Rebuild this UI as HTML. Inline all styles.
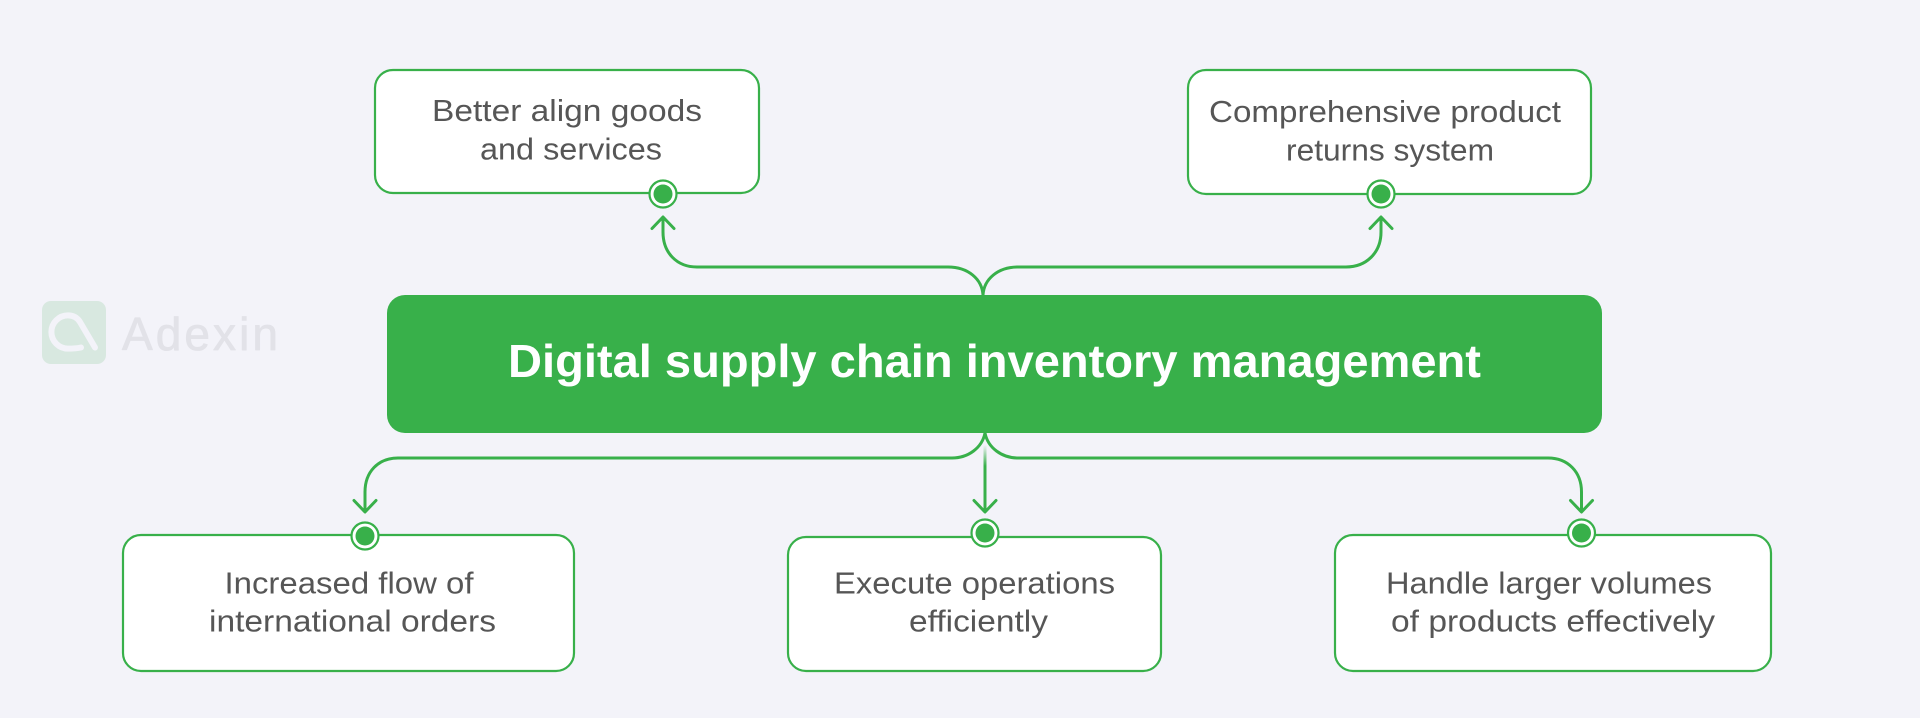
<!DOCTYPE html>
<html lang="en">
<head>
<meta charset="utf-8">
<title>Digital supply chain inventory management</title>
<style>
html,body{margin:0;padding:0;background:#f3f3f9;}
svg{display:block;}
text{font-family:"Liberation Sans",sans-serif;}
.n{font-size:31px;fill:#565656;}
</style>
</head>
<body>
<svg width="1920" height="718" viewBox="0 0 1920 718" xmlns="http://www.w3.org/2000/svg">
<defs>
<linearGradient id="fade" gradientUnits="userSpaceOnUse" x1="0" y1="445" x2="0" y2="466">
<stop offset="0" stop-color="#38b04a" stop-opacity="0"/>
<stop offset="1" stop-color="#38b04a"/>
</linearGradient>
</defs>
<rect width="1920" height="718" fill="#f3f3f9"/>

<!-- logo -->
<rect x="42" y="301" width="64" height="63" rx="9" fill="#d8e8e0"/>
<g fill="none" stroke="#f3f3f9" stroke-width="6" stroke-linecap="round" stroke-linejoin="round">
<path d="M81 347.500C77.500 348.300 73 348.600 68 348.600A16.600 16.600 0 1 1 68 315.400C73.500 315.400 77.500 318 80 322L95 347.500"/>
</g>
<text x="122" y="350" font-size="46" fill="#e2e2e8" stroke="#e2e2e8" stroke-width="0.8" stroke-linejoin="round" textLength="156" lengthAdjust="spacing">Adexin</text>

<!-- connectors -->
<g fill="none" stroke="#38b04a" stroke-width="3" stroke-linecap="round" stroke-linejoin="round">
<path d="M983 295C982 279 968 267 948 267L697 267C677 267 663 253 663 232L663 218"/>
<path d="M652 228.500L663 217L674 228.500"/>
<path d="M983 295C984 279 998 267 1018 267L1346 267C1366 267 1381 253 1381 232L1381 218"/>
<path d="M1370 228.500L1381 217L1392 228.500"/>
<path d="M985 433C982 448 968 458 952 458L398 458C378 458 365 472 365 492L365 511"/>
<path d="M354 500.500L365 512L376 500.500"/>
<path d="M985 433C988 448 1002 458 1018 458L1548 458C1568 458 1581.500 472 1581.500 492L1581.500 511"/>
<path d="M1570.500 500.500L1581.500 512L1592.500 500.500"/>
<path d="M985 445L985 511" stroke="url(#fade)"/>
<path d="M974 500.500L985 512L996 500.500"/>
</g>

<!-- central node -->
<rect x="387" y="295" width="1215" height="138" rx="18" fill="#38b04a"/>
<text x="508" y="377" font-size="46" font-weight="700" fill="#ffffff" textLength="973" lengthAdjust="spacingAndGlyphs">Digital supply chain inventory management</text>

<!-- nodes -->
<g fill="#ffffff" stroke="#38b04a" stroke-width="2.2">
<rect x="375" y="70" width="384" height="123" rx="18"/>
<rect x="1188" y="70" width="403" height="124" rx="18"/>
<rect x="123" y="535" width="451" height="136" rx="18"/>
<rect x="788" y="537" width="373" height="134" rx="18"/>
<rect x="1335" y="535" width="436" height="136" rx="18"/>
</g>

<!-- ports -->
<g fill="#ffffff" stroke="#38b04a" stroke-width="2.2">
<circle cx="663" cy="194" r="13.5"/>
<circle cx="1381" cy="194" r="13.5"/>
<circle cx="365" cy="536" r="13.5"/>
<circle cx="985" cy="533" r="13.5"/>
<circle cx="1581.5" cy="533" r="13.5"/>
</g>
<g fill="#38b04a">
<circle cx="663" cy="194" r="9.5"/>
<circle cx="1381" cy="194" r="9.5"/>
<circle cx="365" cy="536" r="9.5"/>
<circle cx="985" cy="533" r="9.5"/>
<circle cx="1581.5" cy="533" r="9.5"/>
</g>

<!-- labels -->
<g class="n">
<text class="n" x="432" y="121" textLength="270" lengthAdjust="spacingAndGlyphs">Better align goods</text>
<text class="n" x="480" y="159.500" textLength="182" lengthAdjust="spacingAndGlyphs">and services</text>
<text class="n" x="1209" y="122" textLength="352" lengthAdjust="spacingAndGlyphs">Comprehensive product</text>
<text class="n" x="1286" y="160.500" textLength="208" lengthAdjust="spacingAndGlyphs">returns system</text>
<text class="n" x="224.5" y="593.500" textLength="249" lengthAdjust="spacingAndGlyphs">Increased flow of</text>
<text class="n" x="209" y="631.500" textLength="287" lengthAdjust="spacingAndGlyphs">international orders</text>
<text class="n" x="834" y="593.500" textLength="281" lengthAdjust="spacingAndGlyphs">Execute operations</text>
<text class="n" x="909" y="631.500" textLength="139" lengthAdjust="spacingAndGlyphs">efficiently</text>
<text class="n" x="1386" y="593.500" textLength="326" lengthAdjust="spacingAndGlyphs">Handle larger volumes</text>
<text class="n" x="1391" y="631.500" textLength="324" lengthAdjust="spacingAndGlyphs">of products effectively</text>
</g>
</svg>
</body>
</html>
